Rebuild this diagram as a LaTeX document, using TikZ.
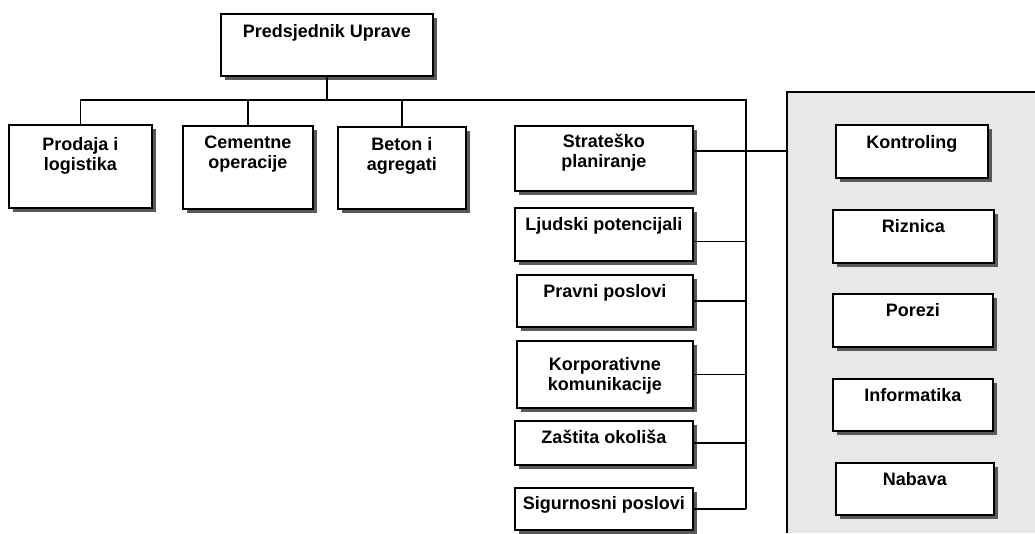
\documentclass[tikz,border=0pt]{standalone}
\usepackage{fontspec}
\setmainfont{Liberation Sans}
\usetikzlibrary{shadows}
\newcommand{\orgtxt}[4][23]{\parbox[t][#3pt][t]{#2pt}{\centering\rule{0pt}{#1pt}#4}}
\definecolor{panelgray}{HTML}{E8E8E8}
\tikzset{
  orgbox/.style={draw, line width=1.8pt, fill=white, anchor=north west, inner sep=0pt,
    font=\fontsize{18}{20}\selectfont\bfseries,
    drop shadow={shadow xshift=4pt, shadow yshift=-4pt, fill=black!65, opacity=1}},
  conn/.style={line width=1.4pt}
}

\begin{document}
\begin{tikzpicture}[x=1pt, y=-1pt]
\useasboundingbox (0,0) rectangle (1035,533);
% sivo polje
\fill[panelgray] (787,92) rectangle (1035,533);
\draw[line width=1.6pt] (1035,92) -- (787,92) -- (787,533);
\coordinate (panel) at (787,92);
\coordinate (trunk) at (746,100);
% uprava
\node[orgbox] (pred) at (220,13) {\orgtxt[24]{212}{62}{Predsjednik Uprave}};
\node[orgbox] (pro) at (8,124) {\orgtxt[26]{143}{83}{Prodaja i\\logistika}};
\node[orgbox] (cem) at (182,125) {\orgtxt{130}{83}{Cementne\\operacije}};
\node[orgbox] (bet) at (337,126) {\orgtxt[24]{128}{82}{Beton i\\agregati}};
% stozerne sluzbe
\node[orgbox] (str) at (514,125) {\orgtxt[22]{178}{65}{Strateško\\planiranje}};
\node[orgbox] (lju) at (514,207) {\orgtxt{178}{53}{Ljudski potencijali}};
\node[orgbox] (pra) at (516,274) {\orgtxt{176}{52}{Pravni poslovi}};
\node[orgbox] (kor) at (516,340) {\orgtxt[30]{176}{67}{Korporativne\\komunikacije}};
\node[orgbox] (zas) at (514,420) {\orgtxt{178}{44}{Zaštita okoliša}};
\node[orgbox] (sig) at (514,487) {\orgtxt[22]{178}{42}{Sigurnosni poslovi}};
% financije
\node[orgbox] (kon) at (835,124) {\orgtxt[24]{152}{53}{Kontroling}};
\node[orgbox] (riz) at (832,209) {\orgtxt{161}{53}{Riznica}};
\node[orgbox] (por) at (832,293) {\orgtxt{160}{53}{Porezi}};
\node[orgbox] (inf) at (832,378) {\orgtxt{160}{52}{Informatika}};
\node[orgbox] (nab) at (835,462) {\orgtxt{158}{52}{Nabava}};
% veze
\draw[conn] (pred.south) -- (pred.south |- trunk);
\draw[conn] (pro.north) |- (trunk) -- (trunk |- sig.east);
\draw[conn] (cem.north) -- (cem.north |- trunk);
\draw[conn] (bet.north) -- (bet.north |- trunk);
\draw[conn] ([yshift=7.5pt]str.east) -- ([yshift=7.5pt]str.east -| panel);
\draw[conn] ([yshift=-7pt]lju.east) -- ([yshift=-7pt]lju.east -| trunk);
\foreach \n in {pra,kor,zas,sig}
  \draw[conn] (\n.east) -- (\n.east -| trunk);
\end{tikzpicture}
\end{document}
